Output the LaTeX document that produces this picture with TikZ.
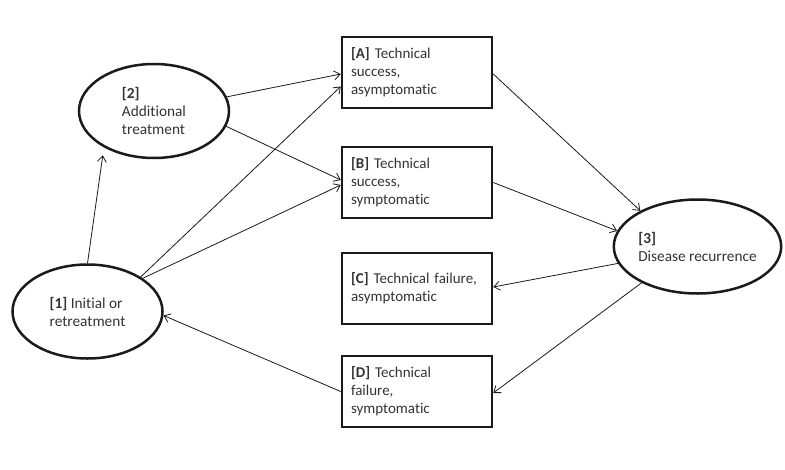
\documentclass[tikz,border=0pt]{standalone}
\usepackage{fontspec}
\setmainfont{Carlito}[Ligatures={NoCommon}]
\usetikzlibrary{shapes.geometric,arrows.meta}
\definecolor{txt}{HTML}{333333}
\definecolor{ln}{HTML}{1A1A1A}
\begin{document}
\begin{tikzpicture}[x=1pt,y=-1pt,
  state/.style={ellipse,draw=ln,line width=2.5pt,minimum width=150pt,minimum height=94pt,
    inner sep=0pt,align=left,text=txt,font=\fontsize{15.3}{18}\selectfont},
  outcome/.style={rectangle,draw=ln,line width=2.5pt,text width=132pt,minimum height=71pt,
    inner xsep=9pt,inner ysep=0pt,align=left,text=txt,font=\fontsize{15}{18}\selectfont},
  link/.style={draw=ln,line width=0.8pt,-{Straight Barb[length=6pt,width=9pt,line width=0.8pt]}}]
\useasboundingbox (0,0) rectangle (785,469);
\node[state] (n2) at (154,111) {\textbf{[2]}\\Additional\\treatment};
\node[state] (n1) at (87.5,311.5) {\textbf{[1]} Initial or\\retreatment};
\node[state] (n3) at (697.5,246.5) {\textbf{[3]}\\Disease recurrence};
\node[outcome] (A) at (417,72.5) {\textbf{[A]} Technical\\success,\\asymptomatic};
\node[outcome] (B) at (417,182.5) {\textbf{[B]} Technical\\success,\\symptomatic};
\node[outcome] (C) at (417,288.5) {\textbf{[C]} Technical failure,\\asymptomatic};
\node[outcome] (D) at (417,391.5) {\textbf{[D]} Technical\\failure,\\symptomatic};
\draw[link,shorten >=8pt] (n1.90) -- (n2.216);
\draw[link] (n2.11) -- ([yshift=-1.5pt]A.west);
\draw[link] (n1.33) -- ([yshift=-14pt]A.west);
\draw[link] (n2.-12) -- ([yshift=2.5pt]B.west);
\draw[link] (n1.31) -- ([yshift=-2.5pt]B.west);
\draw[link] ([yshift=-1.5pt]A.east) -- (n3.148);
\draw[link] (B.east) -- (n3.169);
\draw[link] (n3.192) -- ([yshift=1.5pt]C.east);
\draw[link] (n3.213) -- ([yshift=-1.5pt]D.east);
\draw[link] (D.west) -- (n1.-3);
\end{tikzpicture}
\end{document}
